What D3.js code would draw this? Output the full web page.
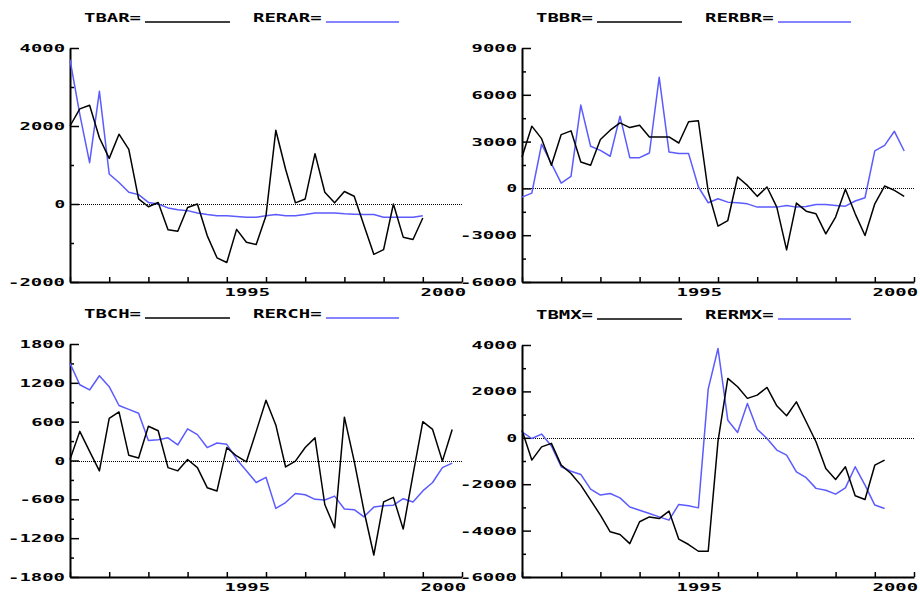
<!DOCTYPE html>
<html>
<head>
<meta charset="utf-8">
<script src="https://cdn.jsdelivr.net/npm/d3@7"></script>
<style>
  html, body { margin: 0; padding: 0; background: #fff; }
  svg text { font-family: "DejaVu Sans Mono", "Liberation Mono", monospace; font-weight: bold; fill: #000; }
</style>
</head>
<body>
<svg id="chart" width="920" height="596"></svg>
<script>
// Quarterly series, index 0 = 1990Q1
const tbar  = [2000,2440,2530,1700,1170,1790,1400,130,-70,40,-660,-700,-90,0,-810,-1380,-1500,-650,-980,-1040,-300,1890,890,30,130,1290,300,30,320,200,-550,-1290,-1170,0,-850,-910,-360];
const rerar = [3700,2300,1060,2890,770,550,300,240,40,0,-100,-150,-170,-230,-270,-300,-300,-320,-340,-340,-300,-270,-300,-300,-270,-230,-230,-230,-250,-260,-270,-270,-340,-340,-340,-340,-300];

const tbbr  = [2010,3990,3190,1480,3450,3690,1690,1480,3130,3730,4200,3900,4050,3300,3300,3300,2910,4270,4330,-200,-2420,-2060,730,190,-510,90,-1200,-3940,-940,-1460,-1630,-2910,-1840,-60,-1630,-3020,-990,150,-130,-510];
const rerbr = [-560,-300,2830,1590,340,770,5340,2700,2440,2060,4630,1970,1970,2270,7120,2340,2230,2230,90,-920,-660,-880,-920,-990,-1200,-1200,-1200,-1090,-1200,-1160,-1030,-1030,-1090,-1140,-810,-600,2400,2760,3660,2400];

const tbch  = [15,450,140,-160,650,750,80,40,530,460,-110,-160,15,-110,-420,-470,200,70,-20,450,930,550,-100,-10,200,350,-680,-1040,670,-10,-780,-1460,-640,-570,-1060,-220,600,480,-10,480];
const rerch = [1500,1170,1090,1310,1140,850,790,730,310,320,350,240,490,400,200,270,250,20,-160,-340,-260,-740,-650,-510,-530,-600,-610,-550,-750,-760,-870,-720,-700,-690,-590,-640,-470,-340,-110,-40];

const tbmx  = [330,-960,-390,-240,-1180,-1540,-2040,-2690,-3330,-4050,-4170,-4560,-3620,-3410,-3480,-3160,-4370,-4600,-4890,-4890,-150,2560,2200,1700,1840,2170,1380,950,1550,690,-170,-1320,-1800,-1250,-2500,-2660,-1180,-960];
const rermx = [260,-30,160,-350,-1250,-1440,-1580,-2210,-2470,-2400,-2590,-2980,-3120,-3260,-3410,-3550,-2870,-2930,-3020,2100,3850,760,230,1480,370,-30,-530,-750,-1470,-1720,-2180,-2260,-2430,-2160,-1250,-2040,-2900,-3050];

// Axis labelling
const startYear = 1990;
const labelYears = [1995, 2000];
const ticksAR = [4000, 2000, 0, -2000];
const ticksBR = [9000, 6000, 3000, 0, -3000, -6000];
const ticksCH = [1800, 1200, 600, 0, -600, -1200, -1800];
const ticksMX = [4000, 2000, 0, -2000, -4000, -6000];

const tbNames  = ["TBAR", "TBBR", "TBCH", "TBMX"];
const rerNames = ["RERAR", "RERBR", "RERCH", "RERMX"];
const tbSeries  = [tbar, tbbr, tbch, tbmx];
const rerSeries = [rerar, rerbr, rerch, rermx];
const yTicks = [ticksAR, ticksBR, ticksCH, ticksMX];

// Panel frames
const frames = [
  { x: 70,  y: 48,  w: 392, h: 234 },
  { x: 522, y: 48,  w: 392, h: 234 },
  { x: 70,  y: 344, w: 392, h: 233 },
  { x: 522, y: 345, w: 392, h: 232 }
];

const BLUE = "#5b5bff";
const CHAR_W = 11.6;
const svg = d3.select("#chart");

function stretch(sel) {
  sel.each(function () {
    const t = d3.select(this);
    const s = t.text();
    if (s.length) t.attr("textLength", s.length * CHAR_W - 1).attr("lengthAdjust", "spacingAndGlyphs");
  });
}

const nQuarters = 40;

frames.forEach((f, i) => {
  const ticks = yTicks[i];
  const yMax = d3.max(ticks), yMin = d3.min(ticks);
  const x = d3.scaleLinear().domain([0, nQuarters]).range([f.x, f.x + f.w]);
  const y = d3.scaleLinear().domain([yMin, yMax]).range([f.y + f.h, f.y]);

  const g = svg.append("g");

  // minor y ticks halfway between labelled values
  const step = ticks[0] - ticks[1];
  const minor = ticks.slice(1).map(v => v + step / 2);
  g.append("g")
    .attr("transform", `translate(${f.x},0)`)
    .call(d3.axisLeft(y).tickValues(minor).tickSize(-4).tickSizeOuter(0).tickFormat(""))
    .call(a => a.select(".domain").remove())
    .call(a => a.selectAll("line").attr("stroke-width", 1.5));

  // labelled y axis
  g.append("g")
    .attr("transform", `translate(${f.x},0)`)
    .call(d3.axisLeft(y).tickValues(ticks).tickSize(-9).tickSizeOuter(0).tickPadding(5).tickFormat(d => String(d)))
    .call(a => a.select(".domain").attr("stroke-width", 2))
    .call(a => a.selectAll("line").attr("stroke-width", 1.5))
    .call(a => a.selectAll("text").attr("font-size", 11).call(stretch));

  // x axis: a tick every year, labels right-aligned at their tick
  const qTicks = d3.range(0, nQuarters + 1, 4);
  const labelQ = labelYears.map(yr => (yr - startYear) * 4);
  g.append("g")
    .attr("transform", `translate(0,${f.y + f.h})`)
    .call(d3.axisBottom(x).tickValues(qTicks).tickSize(-5).tickSizeOuter(0).tickPadding(8)
      .tickFormat(q => { const k = labelQ.indexOf(q); return k >= 0 ? String(labelYears[k]) : ""; }))
    .call(a => a.select(".domain").attr("stroke-width", 2))
    .call(a => a.selectAll("line").attr("stroke-width", 1.5))
    .call(a => a.selectAll("text").attr("font-size", 11).attr("text-anchor", "end").attr("dx", 3.5).attr("dy", "0.55em").call(stretch));

  // dotted zero reference
  g.append("line")
    .attr("x1", f.x + 1).attr("x2", f.x + f.w)
    .attr("y1", Math.round(y(0)) + 0.5).attr("y2", Math.round(y(0)) + 0.5)
    .attr("stroke", "#000").attr("stroke-width", 1).attr("stroke-dasharray", "1,1");

  const line = d3.line().x((d, q) => x(q)).y(d => y(d));

  g.append("path").datum(rerSeries[i])
    .attr("d", line).attr("fill", "none").attr("stroke", BLUE).attr("stroke-width", 1.5).attr("stroke-linejoin", "round");
  g.append("path").datum(tbSeries[i])
    .attr("d", line).attr("fill", "none").attr("stroke", "#000").attr("stroke-width", 1.5).attr("stroke-linejoin", "round");

  // legend
  const ly = f.y - 26;
  const lg = g.append("g").attr("font-size", 12);
  lg.append("text").attr("x", f.x + 14).attr("y", ly).text(tbNames[i] + "=").call(stretch);
  lg.append("line").attr("x1", f.x + 75).attr("x2", f.x + 160).attr("y1", ly).attr("y2", ly)
    .attr("stroke", "#000").attr("stroke-width", 1.5);
  lg.append("text").attr("x", f.x + 183).attr("y", ly).text(rerNames[i] + "=").call(stretch);
  lg.append("line").attr("x1", f.x + 256).attr("x2", f.x + 329).attr("y1", ly).attr("y2", ly)
    .attr("stroke", BLUE).attr("stroke-width", 1.5);
});
</script>
</body>
</html>
